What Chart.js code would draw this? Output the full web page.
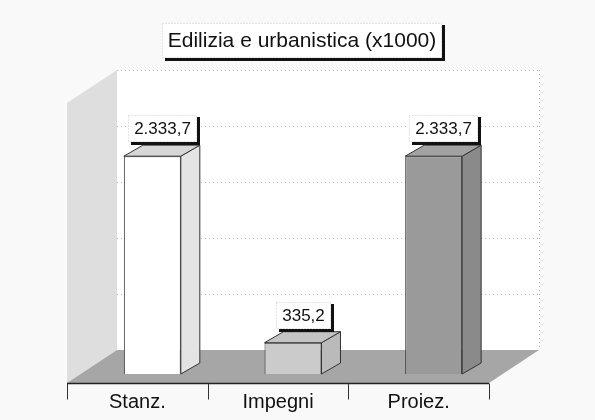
<!DOCTYPE html>
<html lang="it">
<head>
<meta charset="utf-8">
<title>Edilizia e urbanistica</title>
<script src="https://cdn.jsdelivr.net/npm/chart.js@4.4.1/dist/chart.umd.min.js"></script>
<style>
  html, body { margin: 0; padding: 0; background: #f9f9f9; }
  #wrap { width: 595px; height: 420px; }
</style>
</head>
<body>
<div id="wrap"><canvas id="chart" width="595" height="420"></canvas></div>
<script>
const categories = ["Stanz.", "Impegni", "Proiez."];
const values     = [2333.7, 335.2, 2333.7];
const chartTitle = "Edilizia e urbanistica (x1000)";
const yMax  = 3000;
const yStep = 600;

const FONT = "'Liberation Sans', Arial, sans-serif";

// face colours per bar: front / right side / top
const faces = [
  { front: "#ffffff", side: "#e4e4e4", top: "#d6d6d6" },
  { front: "#cbcbcb", side: "#bababa", top: "#c4c4c4" },
  { front: "#9a9a9a", side: "#8a8a8a", top: "#a2a2a2" },
];

// oblique projection offsets, relative to the bar plane (chart area)
const BACK  = { x: 35,  y: -24 };
const FRONT = { x: -15, y: 9 };
const BAR_DEPTH = { x: 19, y: -11 };

function formatIt(v) {
  const [int, dec] = v.toFixed(1).split(".");
  return int.replace(/\B(?=(\d{3})+(?!\d))/g, ".") + "," + dec;
}

function poly(ctx, pts, fill, stroke) {
  ctx.beginPath();
  ctx.moveTo(pts[0][0], pts[0][1]);
  for (let i = 1; i < pts.length; i++) ctx.lineTo(pts[i][0], pts[i][1]);
  ctx.closePath();
  if (fill) { ctx.fillStyle = fill; ctx.fill(); }
  if (stroke) { ctx.strokeStyle = stroke; ctx.lineWidth = 1; ctx.stroke(); }
}

function shadowBox(ctx, cx, top, w, h, text, size) {
  const left = Math.round(cx - w / 2);
  ctx.fillStyle = "#111";
  ctx.fillRect(left + 3, top + h, w, 3);
  ctx.fillRect(left + w, top + 2, 3, h + 1);
  ctx.fillStyle = "#ffffff";
  ctx.fillRect(left, top, w, h);
  ctx.save();
  ctx.setLineDash([1, 2]);
  ctx.strokeStyle = "#c8c8c8";
  ctx.strokeRect(left + 0.5, top + 0.5, w - 1, h - 1);
  ctx.restore();
  ctx.fillStyle = "#111";
  ctx.font = size + "px " + FONT;
  ctx.textAlign = "center";
  ctx.textBaseline = "middle";
  ctx.fillText(text, left + w / 2, top + h / 2 + 1);
}

const box3d = {
  id: "box3d",
  beforeDraw(chart) {
    const { ctx, chartArea: a, scales: { y } } = chart;
    const top = y.getPixelForValue(yMax);
    const base = y.getPixelForValue(0);

    ctx.save();
    // back wall
    ctx.fillStyle = "#ffffff";
    ctx.fillRect(a.left + BACK.x, top + BACK.y, a.right - a.left, base - top);
    ctx.save();
    ctx.setLineDash([1, 3]);
    ctx.strokeStyle = "#b8b8b8";
    ctx.lineWidth = 1;
    for (let v = 0; v <= yMax; v += yStep) {
      const py = Math.round(y.getPixelForValue(v) + BACK.y) + 0.5;
      ctx.beginPath();
      ctx.moveTo(a.left + BACK.x, py);
      ctx.lineTo(a.right + BACK.x, py);
      ctx.stroke();
    }
    ctx.beginPath();
    ctx.moveTo(a.right + BACK.x + 0.5, top + BACK.y);
    ctx.lineTo(a.right + BACK.x + 0.5, base + BACK.y);
    ctx.stroke();
    ctx.restore();

    // left wall
    poly(ctx, [
      [a.left + BACK.x, top + BACK.y],
      [a.left + BACK.x, base + BACK.y],
      [a.left + FRONT.x, base + FRONT.y],
      [a.left + FRONT.x, top + FRONT.y],
    ], "#dedede");

    // floor
    poly(ctx, [
      [a.left + BACK.x, base + BACK.y],
      [a.right + BACK.x, base + BACK.y],
      [a.right + FRONT.x, base + FRONT.y],
      [a.left + FRONT.x, base + FRONT.y],
    ], "#a6a6a6");

    // front category axis with separators
    const fy = Math.round(base + FRONT.y) + 0.5;
    ctx.strokeStyle = "#222";
    ctx.lineWidth = 1.5;
    ctx.beginPath();
    ctx.moveTo(a.left + FRONT.x, fy);
    ctx.lineTo(a.right + FRONT.x, fy);
    ctx.stroke();
    const cw = (a.right - a.left) / categories.length;
    ctx.lineWidth = 1;
    ctx.strokeStyle = "#333";
    for (let i = 0; i <= categories.length; i++) {
      const px = Math.round(a.left + i * cw + FRONT.x) + 0.5;
      ctx.beginPath();
      ctx.moveTo(px, fy);
      ctx.lineTo(px, fy + 16);
      ctx.stroke();
    }
    ctx.restore();
  },
  afterDatasetsDraw(chart) {
    const { ctx } = chart;
    const meta = chart.getDatasetMeta(0);
    ctx.save();
    meta.data.forEach((bar, i) => {
      const { x, y, base, width } = bar.getProps(["x", "y", "base", "width"], true);
      const l = x - width / 2, r = x + width / 2;
      poly(ctx, [
        [r, y], [r + BAR_DEPTH.x, y + BAR_DEPTH.y],
        [r + BAR_DEPTH.x, base + BAR_DEPTH.y], [r, base],
      ], faces[i].side, "#333");
      poly(ctx, [
        [l, y], [l + BAR_DEPTH.x, y + BAR_DEPTH.y],
        [r + BAR_DEPTH.x, y + BAR_DEPTH.y], [r, y],
      ], faces[i].top, "#333");

      // value label sitting above the bar top
      const text = formatIt(values[i]);
      ctx.font = "17px " + FONT;
      const w = Math.round(ctx.measureText(text).width) + 12;
      const h = 27;
      const bottom = y + BAR_DEPTH.y - 3;
      shadowBox(ctx, x + 10, Math.round(bottom - h), w, h, text, 17);
    });

    // title
    ctx.font = "21px " + FONT;
    const tw = Math.round(ctx.measureText(chartTitle).width) + 12;
    shadowBox(ctx, 302, 23, tw, 35, chartTitle, 21);
    ctx.restore();
  },
};

new Chart(document.getElementById("chart"), {
  type: "bar",
  data: {
    labels: categories,
    datasets: [{
      data: values,
      backgroundColor: faces.map((f) => f.front),
      borderColor: "#333",
      borderWidth: 1,
      barPercentage: 0.81,
      categoryPercentage: 0.5,
    }],
  },
  options: {
    responsive: false,
    animation: false,
    // axis labels hang a little lower than their own box allows
    layout: { padding: { left: 82, right: 91, top: 94, bottom: -10 } },
    plugins: {
      legend: { display: false },
      tooltip: { enabled: false },
      title: { display: false },
    },
    scales: {
      x: {
        grid: { display: false, drawTicks: false },
        border: { display: false },
        ticks: {
          font: { family: FONT, size: 20 },
          color: "#111",
          padding: 16,
          labelOffset: -15,
        },
      },
      y: {
        display: false,
        min: 0,
        max: yMax,
        ticks: { stepSize: yStep },
      },
    },
  },
  plugins: [box3d],
});
</script>
</body>
</html>
